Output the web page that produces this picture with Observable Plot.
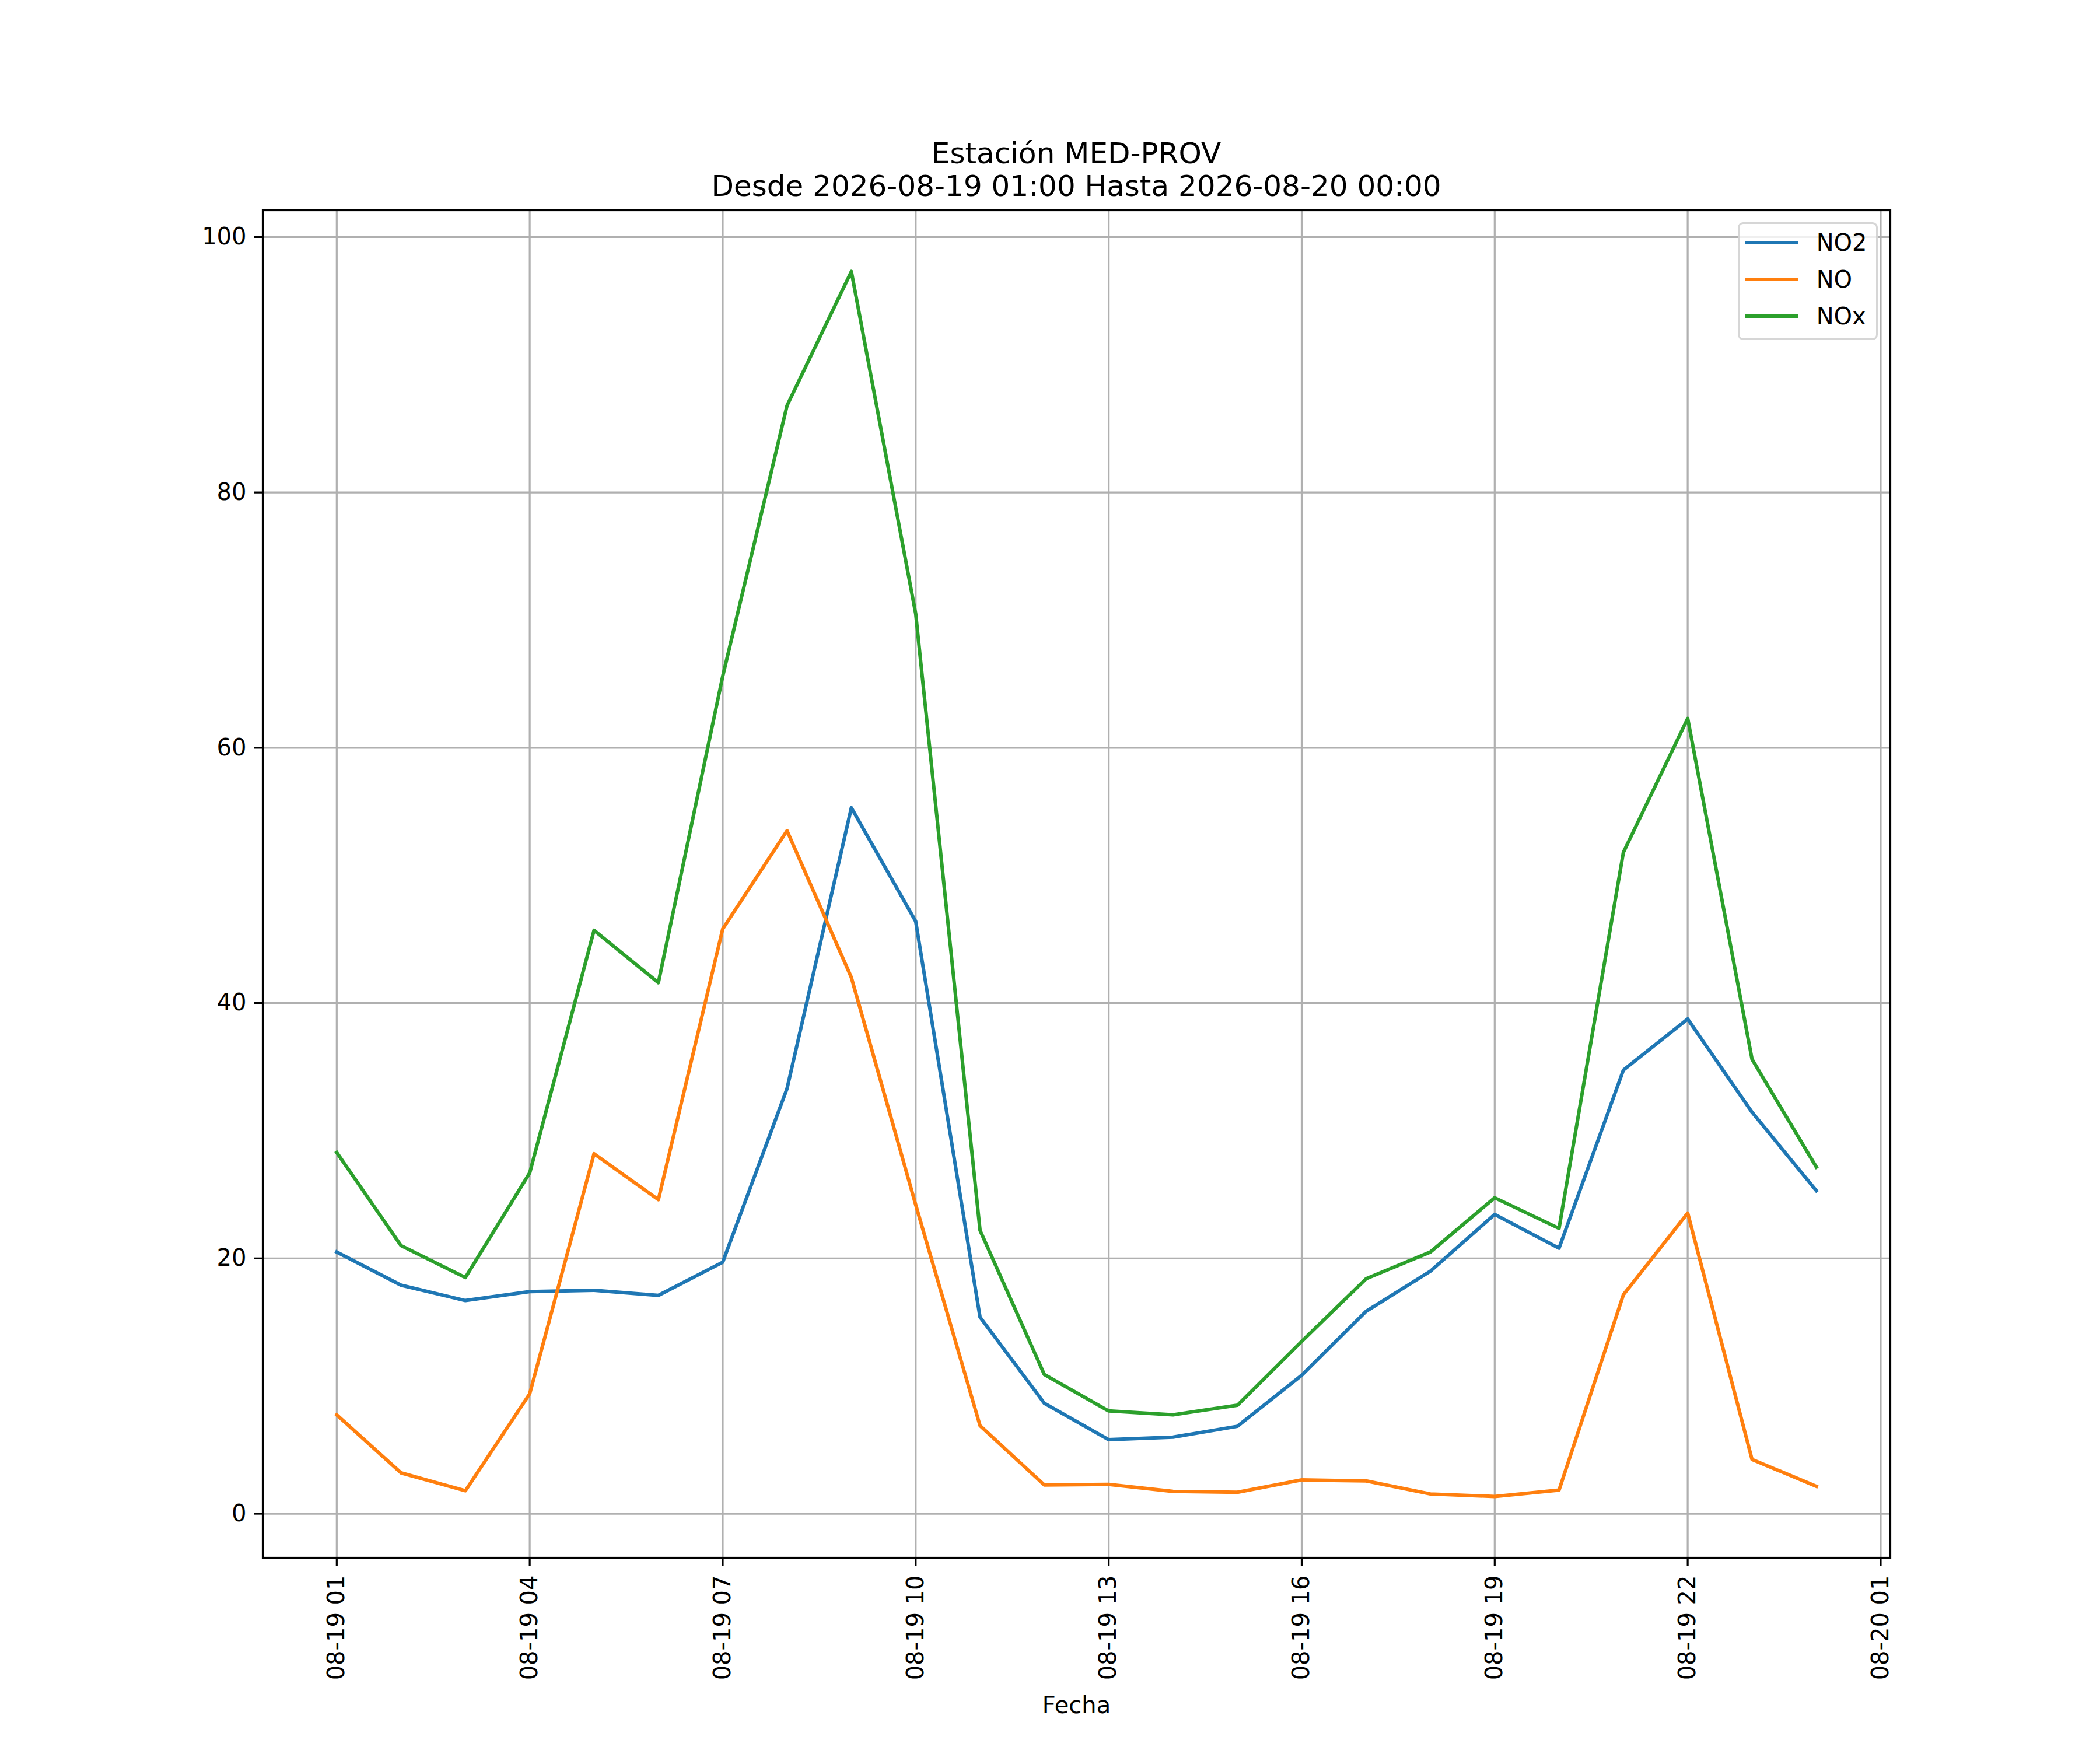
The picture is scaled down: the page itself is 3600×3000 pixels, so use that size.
<!DOCTYPE html>
<html>
<head>
<meta charset="utf-8">
<script src="https://cdn.jsdelivr.net/npm/d3@7"></script>
<script src="https://cdn.jsdelivr.net/npm/@observablehq/plot@0.6"></script>
<style>
  html, body { margin: 0; padding: 0; background: #ffffff; }
  #wrap { position: relative; width: 3600px; height: 3000px; background: #ffffff; font-family: "DejaVu Sans", sans-serif; color: #000; }
  #wrap svg { position: absolute; left: 0; top: 0; }
  #title { position: absolute; left: 0; top: 235px; width: 3690px; text-align: center; font-size: 50px; line-height: 56px; white-space: nowrap; }
  #legend { position: absolute; left: 2979px; top: 381px; width: 234px; height: 196px; border: 3.3px solid rgba(204,204,204,0.8); border-radius: 9px; background: rgba(255,255,255,0.8); }
  .entry { position: absolute; height: 56px; display: flex; align-items: center; font-size: 40px; white-space: nowrap; }
  .handle { position: absolute; height: 6px; }
</style>
</head>
<body>
<div id="wrap">
  <div id="title">Estación MED-PROV<br>Desde 2026-08-19 01:00 Hasta 2026-08-20 00:00</div>
</div>
<script>
// ---- data ----
const times = [
  "2026-08-19 01:00","2026-08-19 02:00","2026-08-19 03:00","2026-08-19 04:00",
  "2026-08-19 05:00","2026-08-19 06:00","2026-08-19 07:00","2026-08-19 08:00",
  "2026-08-19 09:00","2026-08-19 10:00","2026-08-19 11:00","2026-08-19 12:00",
  "2026-08-19 13:00","2026-08-19 14:00","2026-08-19 15:00","2026-08-19 16:00",
  "2026-08-19 17:00","2026-08-19 18:00","2026-08-19 19:00","2026-08-19 20:00",
  "2026-08-19 21:00","2026-08-19 22:00","2026-08-19 23:00","2026-08-20 00:00"
];
const no2 = [20.5, 17.9, 16.7, 17.4, 17.5, 17.1, 19.7, 33.3, 55.3, 46.4, 15.4, 8.65,
             5.8, 6.0, 6.85, 10.85, 15.85, 19.0, 23.45, 20.8, 34.75, 38.75, 31.45, 25.3];
const no  = [7.75, 3.2, 1.8, 9.4, 28.2, 24.6, 45.8, 53.5, 42.0, 24.2, 6.9, 2.25,
             2.3, 1.75, 1.68, 2.65, 2.57, 1.55, 1.35, 1.85, 17.15, 23.55, 4.25, 2.15];
const nox = [28.3, 21.0, 18.5, 26.7, 45.7, 41.6, 65.6, 86.8, 97.3, 70.5, 22.2, 10.9,
             8.05, 7.75, 8.5, 13.5, 18.4, 20.5, 24.75, 22.35, 51.8, 62.3, 35.6, 27.15];
const seriesNames = ["NO2", "NO", "NOx"];
const seriesColors = ["#1f77b4", "#ff7f0e", "#2ca02c"];
const tickLabels = ["08-19 01","08-19 04","08-19 07","08-19 10","08-19 13","08-19 16","08-19 19","08-19 22","08-20 01"];
const yTicks = [0, 20, 40, 60, 80, 100];
const xLabel = "Fecha";

// ---- build ----
const parse = d3.utcParse("%Y-%m-%d %H:%M");
const tParse = d3.utcParse("%Y-%m-%d %H");
const dates = times.map(parse);
const tickDates = tickLabels.map(s => tParse("2026-" + s));
const labelOf = new Map(tickDates.map((d, i) => [+d, tickLabels[i]]));
const seriesValues = [no2, no, nox];
const rows = [];
seriesValues.forEach((vals, k) => vals.forEach((v, i) => rows.push({date: dates[i], value: v, series: seriesNames[k]})));

const [t0, t1] = d3.extent(dates);
const span = t1 - t0;
const xDomain = [new Date(+t0 - 0.05 * span), new Date(+t1 + 0.05 * span)];
const [vmin, vmax] = d3.extent(rows, d => d.value);
const vr = vmax - vmin;
const yDomain = [vmin - 0.05 * vr, vmax + 0.05 * vr];

const chart = Plot.plot({
  width: 3600,
  height: 3000,
  marginLeft: 450,
  marginRight: 360,
  marginTop: 360,
  marginBottom: 330,
  style: {fontFamily: "DejaVu Sans, sans-serif", fontSize: "40px", background: "transparent", color: "#000"},
  x: {type: "utc", domain: xDomain},
  y: {domain: yDomain},
  marks: [
    Plot.gridX(tickDates, {stroke: "#b0b0b0", strokeOpacity: 1, strokeWidth: 3.2}),
    Plot.gridY(yTicks, {stroke: "#b0b0b0", strokeOpacity: 1, strokeWidth: 3.2}),
    ...seriesNames.map((name, k) => Plot.line(rows.filter(r => r.series === name), {
      x: "date", y: "value", stroke: seriesColors[k], strokeWidth: 6, strokeLinejoin: "round", strokeLinecap: "square"
    })),
    Plot.frame({stroke: "#000", strokeWidth: 3.2}),
    Plot.axisX(tickDates, {
      tickFormat: d => labelOf.get(+d), tickRotate: -90, tickSize: 14, tickPadding: 16,
      fontSize: 40, strokeWidth: 3.2, label: null
    }),
    Plot.axisY(yTicks, {tickSize: 14, tickPadding: 14, fontSize: 40, strokeWidth: 3.2, label: null}),
    Plot.text([xLabel], {frameAnchor: "bottom", dy: 254, fontSize: 40, lineAnchor: "middle", fill: "#000"})
  ]
});

const wrap = document.getElementById("wrap");
wrap.insertBefore(chart, wrap.firstChild);

// legend
const legend = document.createElement("div");
legend.id = "legend";
wrap.appendChild(legend);
const entryYs = [416, 479, 542];
seriesNames.forEach((name, k) => {
  const h = document.createElement("div");
  h.className = "handle";
  h.style.left = (2992 - 2979 - 3.3) + "px";
  h.style.width = "90px";
  h.style.top = (entryYs[k] - 381 - 3.3 - 3) + "px";
  h.style.background = seriesColors[k];
  legend.appendChild(h);
  const e = document.createElement("div");
  e.className = "entry";
  e.style.left = (3114 - 2979 - 3.3) + "px";
  e.style.top = (entryYs[k] - 381 - 3.3 - 28) + "px";
  e.textContent = name;
  legend.appendChild(e);
});
</script>
</body>
</html>
